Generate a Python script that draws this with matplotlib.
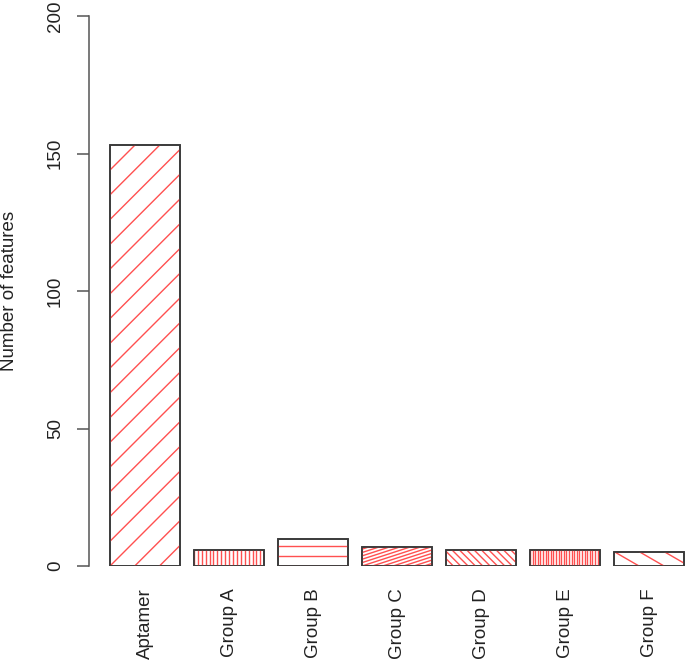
import numpy as np
import matplotlib
matplotlib.use('Agg')
import matplotlib.pyplot as plt
from matplotlib.collections import LineCollection

categories = ['Aptamer', 'Group A', 'Group B', 'Group C', 'Group D', 'Group E', 'Group F']
counts = [153, 6, 10, 7, 6, 6, 5]

# hatch angle (degrees) and line spacing (pixels) for each bar
hatch_angles = [45, 90, 0, 18, -45, 90, -30]
hatch_spacing = [17.5, 3.9, 10, 3.2, 5.2, 2.6, 12.5]

plt.rcParams['font.family'] = ['Liberation Sans', 'DejaVu Sans']

W, H = 685, 663
fig = plt.figure(figsize=(W / 100, H / 100), dpi=100)
ax = fig.add_axes([89 / W, (H - 566) / H, 596 / W, 550 / H])

x = 0.7 + 1.2 * np.arange(len(categories))
bars = ax.bar(x, counts, width=1.0, color='white', edgecolor='#3a3a3a',
              linewidth=1.2, zorder=1)

ax.set_xlim(-0.1, -0.1 + 596 / 70)
ax.set_ylim(0, 200)


def hatch_bar(bar, angle, spacing):
    # lines drawn in pixel space, clipped to the bar
    x0, y0 = bar.get_x(), bar.get_y()
    x1, y1 = x0 + bar.get_width(), y0 + bar.get_height()
    (px0, py0), (px1, py1) = ax.transData.transform([(x0, y0), (x1, y1)])
    t = np.radians(angle)
    d = np.array([np.cos(t), np.sin(t)])
    n = np.array([-np.sin(t), np.cos(t)])
    origin = np.array([px0, py0])
    c = np.array([(px0 + px1) / 2, (py0 + py1) / 2])
    R = np.hypot(px1 - px0, py1 - py0) + spacing
    segs = []
    for k in range(-int(R / spacing) - 2, int(R / spacing) + 3):
        p = origin + n * k * spacing
        p = p + d * np.dot(c - p, d)
        seg = ax.transData.inverted().transform([p - d * R, p + d * R])
        segs.append(seg)
    lc = LineCollection(segs, colors='#ff5050', linewidths=1.0, zorder=3)
    ax.add_collection(lc, autolim=False)
    lc.set_clip_path(bar)


for bar, ang, sp in zip(bars, hatch_angles, hatch_spacing):
    hatch_bar(bar, ang, sp)

# bar outlines on top of the hatching
ax.bar(x, counts, width=1.0, color='none', edgecolor='#3a3a3a',
       linewidth=1.2, zorder=4)

for side in ['top', 'right', 'bottom']:
    ax.spines[side].set_visible(False)
ax.spines['left'].set_color('#555555')
ax.spines['left'].set_linewidth(1.1)

ax.set_yticks([0, 50, 100, 150, 200])
ax.tick_params(axis='y', length=9, width=1.1, color='#555555', pad=9,
               labelsize=13.5, labelcolor='#222222')
for lab in ax.get_yticklabels():
    lab.set_rotation(90)
    lab.set_va('center')

ax.set_xticks(x)
ax.set_xticklabels(categories, rotation=90, ha='center', va='top')
ax.tick_params(axis='x', length=0, pad=16, labelsize=13.5, labelcolor='#222222')

ax.set_ylabel('Number of features', fontsize=13.5, color='#222222')
ax.yaxis.set_label_coords((18 - 89) / 596, 0.5)

fig.savefig('out.png', dpi=100)
